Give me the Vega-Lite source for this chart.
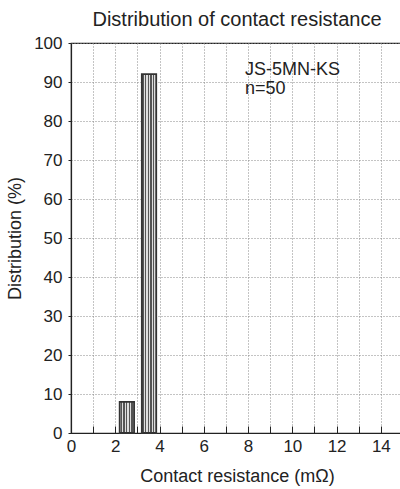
{
  "$schema": "https://vega.github.io/schema/vega-lite/v6.json",
  "autosize": {"type": "none"},
  "width": 332,
  "height": 390,
  "padding": {"left": 71, "top": 43, "right": 0, "bottom": 56},
  "background": "white",
  "title": {"text": "Distribution of contact resistance", "font": "Liberation Sans", "fontSize": 20, "fontWeight": "normal", "color": "#222", "offset": 4, "anchor": "middle"},
  "config": {
    "view": {"stroke": "#222", "strokeWidth": 1.2},
    "axis": {"labelFont": "Liberation Sans", "titleFont": "Liberation Sans", "labelFontSize": 17, "titleFontSize": 18, "titleFontWeight": "normal", "labelColor": "#222", "titleColor": "#222", "domainColor": "#222", "tickColor": "#222", "gridColor": "#888", "gridDash": [1, 2], "gridWidth": 1}
  },
  "datasets": {
    "bars": [
      {"x": 2.2, "x_end": 2.85, "y": 8},
      {"x": 3.2, "x_end": 3.85, "y": 92}
    ],
    "notes": [
      {"x": 7.86, "y": 93.1, "label": "JS-5MN-KS"},
      {"x": 7.86, "y": 88.2, "label": "n=50"}
    ]
  },
  "encoding": {
    "x": {
      "field": "x", "type": "quantitative",
      "scale": {"domain": [0, 15], "nice": false, "zero": false},
      "axis": {
        "title": "Contact resistance (mΩ)",
        "values": [0, 1, 2, 3, 4, 5, 6, 7, 8, 9, 10, 11, 12, 13, 14, 15],
        "labelExpr": "datum.value % 2 == 0 && datum.value < 15 ? datum.label : ''",
        "tickSize": -7,
        "labelPadding": 12,
        "titlePadding": 13,
        "labelFlush": false,
        "labelOverlap": false,
        "grid": true,
        "domainWidth": 1.2
      }
    },
    "y": {
      "field": "y", "type": "quantitative",
      "scale": {"domain": [0, 100], "nice": false},
      "axis": {
        "title": "Distribution (%)",
        "values": [0, 10, 20, 30, 40, 50, 60, 70, 80, 90, 100],
        "labelOverlap": false,
        "labelFlush": false,
        "tickSize": 3,
        "labelPadding": 6,
        "titlePadding": 9,
        "grid": true,
        "domainWidth": 1.2
      }
    }
  },
  "layer": [
    {
      "data": {"name": "bars"},
      "mark": {
        "type": "bar",
        "stroke": "#333",
        "strokeWidth": 1.8,
        "fill": {"gradient": "linear", "x1": 0, "x2": 1, "y1": 0, "y2": 0, "stops": [
          {"offset": 0.0, "color": "#555"}, {"offset": 0.055, "color": "#555"}, {"offset": 0.056, "color": "#ddd"}, {"offset": 0.111, "color": "#ddd"},
          {"offset": 0.112, "color": "#555"}, {"offset": 0.166, "color": "#555"}, {"offset": 0.167, "color": "#ddd"}, {"offset": 0.222, "color": "#ddd"},
          {"offset": 0.223, "color": "#555"}, {"offset": 0.277, "color": "#555"}, {"offset": 0.278, "color": "#ddd"}, {"offset": 0.333, "color": "#ddd"},
          {"offset": 0.334, "color": "#555"}, {"offset": 0.388, "color": "#555"}, {"offset": 0.389, "color": "#ddd"}, {"offset": 0.444, "color": "#ddd"},
          {"offset": 0.445, "color": "#555"}, {"offset": 0.499, "color": "#555"}, {"offset": 0.5, "color": "#ddd"}, {"offset": 0.555, "color": "#ddd"},
          {"offset": 0.556, "color": "#555"}, {"offset": 0.61, "color": "#555"}, {"offset": 0.611, "color": "#ddd"}, {"offset": 0.666, "color": "#ddd"},
          {"offset": 0.667, "color": "#555"}, {"offset": 0.721, "color": "#555"}, {"offset": 0.722, "color": "#ddd"}, {"offset": 0.777, "color": "#ddd"},
          {"offset": 0.778, "color": "#555"}, {"offset": 0.832, "color": "#555"}, {"offset": 0.833, "color": "#ddd"}, {"offset": 0.888, "color": "#ddd"},
          {"offset": 0.889, "color": "#555"}, {"offset": 0.943, "color": "#555"}, {"offset": 0.944, "color": "#ddd"}, {"offset": 1.0, "color": "#ddd"}
        ]}
      },
      "encoding": {
        "x2": {"field": "x_end"},
        "y2": {"datum": 0}
      }
    },
    {
      "data": {"name": "notes"},
      "mark": {"type": "text", "align": "left", "baseline": "middle", "font": "Liberation Sans", "fontSize": 18, "color": "#222"},
      "encoding": {
        "text": {"field": "label"}
      }
    }
  ]
}
